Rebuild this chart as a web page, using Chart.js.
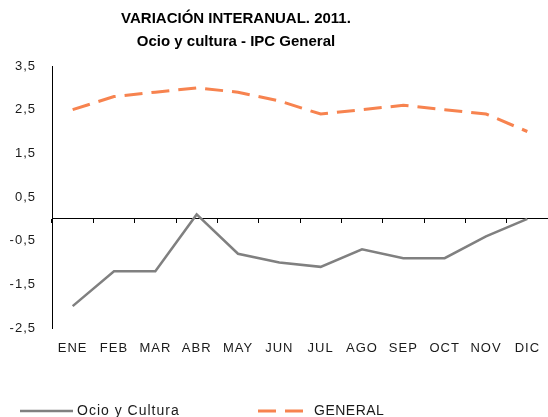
<!DOCTYPE html>
<html>
<head>
<meta charset="utf-8">
<script src="https://cdn.jsdelivr.net/npm/chart.js@4/dist/chart.umd.min.js"></script>
<style>
html,body{margin:0;padding:0;background:#fff;}
#wrap{width:548px;height:417px;position:relative;}
</style>
</head>
<body>
<div id="wrap"><canvas id="c" width="548" height="417"></canvas></div>
<script>
// ---- data ----
const titleLines = ['VARIACIÓN INTERANUAL. 2011.', 'Ocio y cultura - IPC General'];
const months = ['ENE','FEB','MAR','ABR','MAY','JUN','JUL','AGO','SEP','OCT','NOV','DIC'];
const seriesNames = ['Ocio y Cultura', 'GENERAL'];
const ocioCultura = [-2.0, -1.2, -1.2, 0.1, -0.8, -1.0, -1.1, -0.7, -0.9, -0.9, -0.4, 0.0];
const general = [2.5, 2.8, 2.9, 3.0, 2.9, 2.7, 2.4, 2.5, 2.6, 2.5, 2.4, 2.0];
const yMin = -2.5, yMax = 3.5, yStep = 1;

const FONT = '"Liberation Sans", Arial, sans-serif';
Chart.defaults.font.family = FONT;
Chart.defaults.color = '#1a1a1a';

function setSpacing(ctx, v) { try { ctx.letterSpacing = v; } catch (e) {} }

const overlay = {
  id: 'overlay',
  beforeDraw(chart) { setSpacing(chart.ctx, '1px'); },
  afterDraw(chart) {
    const ctx = chart.ctx;
    setSpacing(ctx, '0px');
    ctx.save();
    // title
    ctx.fillStyle = '#000';
    ctx.font = 'bold 15px ' + FONT;
    ctx.textAlign = 'center';
    ctx.textBaseline = 'middle';
    ctx.fillText(titleLines[0], 236, 19);
    ctx.fillText(titleLines[1], 236, 42);
    // legend
    const items = [
      {x1: 20, x2: 73, tx: 77},
      {x1: 258, x2: 304, tx: 314}
    ];
    const y = 411;
    chart.data.datasets.forEach((ds, i) => {
      const it = items[i];
      ctx.beginPath();
      ctx.strokeStyle = ds.borderColor;
      ctx.lineWidth = ds.borderWidth;
      ctx.setLineDash(ds.borderDash || []);
      ctx.moveTo(it.x1, y);
      ctx.lineTo(it.x2, y);
      ctx.stroke();
      ctx.setLineDash([]);
      ctx.fillStyle = '#1a1a1a';
      ctx.font = '14px ' + FONT;
      ctx.textAlign = 'left';
      ctx.textBaseline = 'middle';
      setSpacing(ctx, i === 0 ? '1px' : '0.5px');
      ctx.fillText(ds.label, it.tx, y);
      setSpacing(ctx, '0px');
    });
    ctx.restore();
  }
};

new Chart(document.getElementById('c'), {
  type: 'line',
  data: {
    labels: months,
    datasets: [
      {
        label: seriesNames[0],
        data: ocioCultura,
        borderColor: '#808080',
        borderWidth: 2.5,
        pointRadius: 0,
        fill: false,
        tension: 0,
        xAxisID: 'x',
        yAxisID: 'y'
      },
      {
        label: seriesNames[1],
        data: general,
        borderColor: '#f7834f',
        borderWidth: 3,
        borderDash: [18, 9],
        pointRadius: 0,
        fill: false,
        tension: 0,
        xAxisID: 'x',
        yAxisID: 'y'
      }
    ]
  },
  options: {
    responsive: false,
    animation: false,
    devicePixelRatio: 1,
    layout: { padding: { top: 66, left: 0, right: 0, bottom: 0 } },
    plugins: {
      legend: { display: false },
      title: { display: false },
      tooltip: { enabled: false }
    },
    scales: {
      x: {
        type: 'category',
        position: 'bottom',
        offset: true,
        grid: { display: false },
        border: { display: false },
        ticks: { font: { size: 13 }, color: '#1a1a1a', padding: 5, maxRotation: 0, autoSkip: false },
        afterFit(s) { s.height = 89; }
      },
      x0: {
        type: 'category',
        position: { y: 0 },
        offset: true,
        grid: { display: true, drawOnChartArea: false, drawTicks: true, tickLength: 4, color: '#000', lineWidth: 1, offset: true },
        border: { display: true, color: '#000', width: 1 },
        ticks: { display: false },
        afterFit(s) { s.height = 0; }
      },
      y: {
        type: 'linear',
        position: 'left',
        min: yMin,
        max: yMax,
        grid: { display: true, drawOnChartArea: false, drawTicks: false },
        border: { display: true, color: '#000', width: 1 },
        ticks: {
          stepSize: yStep,
          padding: 16,
          font: { size: 13 },
          color: '#1a1a1a',
          callback: v => v.toFixed(1).replace('.', ',')
        },
        afterFit(s) { s.width = 52; }
      }
    }
  },
  plugins: [overlay]
});
</script>
</body>
</html>
